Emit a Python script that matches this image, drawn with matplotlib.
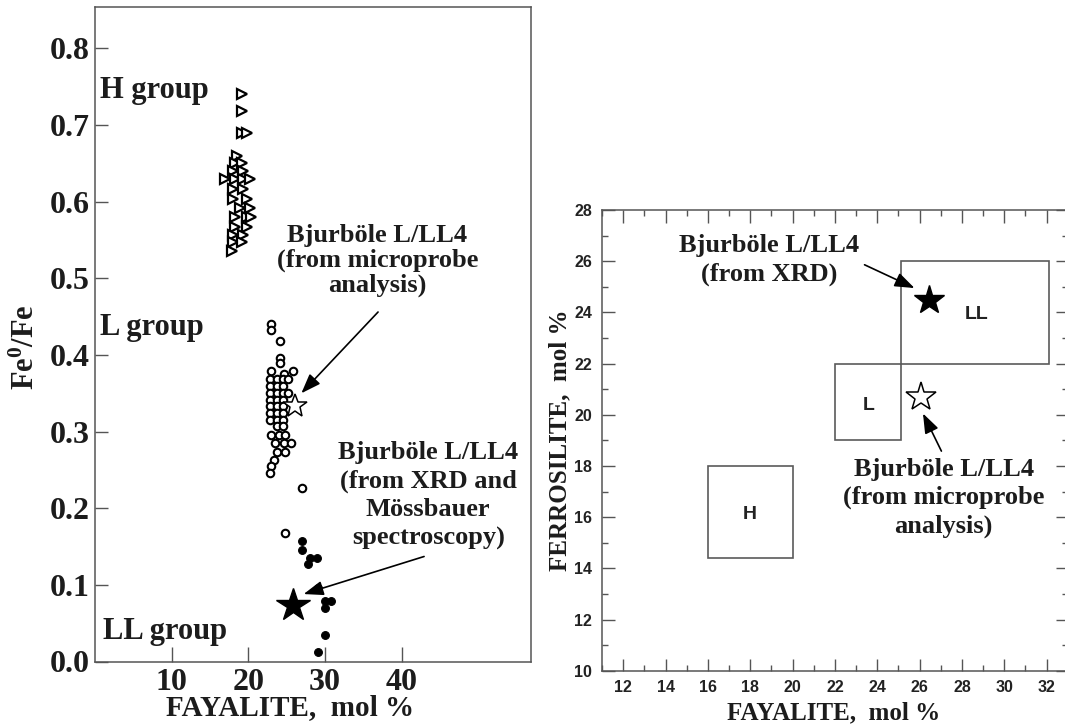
import matplotlib
matplotlib.use("Agg")
import matplotlib.pyplot as plt
from matplotlib.patches import Rectangle
from matplotlib.ticker import MultipleLocator, FixedLocator

# ---------------- data ----------------
# Left panel: Fe0/Fe vs fayalite
h_fa = [19.1, 19.1, 19.1, 19.8, 18.5, 18.25, 19.1, 18.0, 19.35, 16.95, 18.25, 19.35, 20.2,
        18.0, 19.35, 18.0, 19.8, 18.9, 20.2, 18.25, 19.8, 20.4, 18.25, 19.8, 18.0, 19.35,
        18.0, 19.1, 17.8]
h_fe = [0.740, 0.718, 0.690, 0.690, 0.659, 0.651, 0.651, 0.640, 0.640, 0.629, 0.629, 0.629, 0.629,
        0.616, 0.616, 0.603, 0.603, 0.592, 0.592, 0.580, 0.580, 0.580, 0.567, 0.567, 0.557, 0.557,
        0.547, 0.547, 0.535]

l_fa = [23.0, 23.0, 24.1, 24.1, 24.1, 23.0, 25.8, 24.6,
        22.8, 23.7, 24.55, 25.2,
        22.8, 23.7, 24.55,
        22.8, 23.7, 24.55, 25.2,
        22.8, 23.7, 24.55,
        22.8, 23.7, 24.55,
        22.8, 23.7, 24.55,
        22.8, 23.7, 24.55,
        23.7, 24.55,
        22.9, 24.0, 24.8,
        23.5, 24.6, 25.5,
        23.7, 24.8,
        23.3, 23.0, 22.85,
        26.95, 24.8]
l_fe = [0.440, 0.432, 0.418, 0.396, 0.389, 0.379, 0.379, 0.375,
        0.368, 0.368, 0.368, 0.368,
        0.359, 0.359, 0.359,
        0.350, 0.350, 0.350, 0.350,
        0.341, 0.341, 0.341,
        0.333, 0.333, 0.333,
        0.324, 0.324, 0.324,
        0.315, 0.315, 0.315,
        0.307, 0.307,
        0.296, 0.296, 0.296,
        0.285, 0.285, 0.285,
        0.274, 0.274,
        0.263, 0.255, 0.246,
        0.227, 0.168]

ll_fa = [26.95, 26.95, 28.0, 28.9, 27.8, 29.1, 30.0, 30.8, 30.0, 30.0, 29.1]
ll_fe = [0.157, 0.146, 0.135, 0.135, 0.127, 0.096, 0.079, 0.079, 0.070, 0.035, 0.012]

bj_micro_left = (26.08, 0.333)
bj_xrd_left = (25.85, 0.074)

group_labels = ["H group", "L group", "LL group"]
group_label_y = [0.745, 0.436, 0.039]

left_xticks = [10, 20, 30, 40]
left_yticks = [0.0, 0.1, 0.2, 0.3, 0.4, 0.5, 0.6, 0.7, 0.8]

# Right panel: ferrosilite vs fayalite fields
fields = ["H", "L", "LL"]
field_fa_min = [16.0, 22.0, 25.1]
field_fa_max = [20.0, 25.1, 32.1]
field_fs_min = [14.4, 19.0, 22.0]
field_fs_max = [18.0, 22.0, 26.0]
field_label_pos = [(18.0, 16.1), (23.6, 20.35), (28.7, 23.9)]

bj_xrd_right = (26.43, 24.49)
bj_micro_right = (26.05, 20.70)

# ---------------- style ----------------
plt.rcParams['mathtext.fontset'] = 'custom'
plt.rcParams['mathtext.rm'] = 'Liberation Serif:bold'
plt.rcParams['mathtext.bf'] = 'Liberation Serif:bold'
plt.rcParams['mathtext.it'] = 'Liberation Serif:bold'

SERIF = 'Liberation Serif'
SANS = 'Liberation Sans'
TXT = '#1c1c1c'
SP = '#555555'
ARROW = dict(arrowstyle='-|>,head_length=0.6,head_width=0.22', color='black',
             lw=1.2, mutation_scale=20, shrinkA=0, shrinkB=0)

W, H = 1065, 727
fig = plt.figure(figsize=(W / 100, H / 100), dpi=100)
fig.patch.set_facecolor('white')

def box(l, r, t, b):
    return [l / W, 1 - b / H, (r - l) / W, (b - t) / H]

# ---------------- left panel ----------------
ax1 = fig.add_axes(box(95, 530.7, 7, 661.5))
ax1.set_xlim(0, 56.8)
ax1.set_ylim(0, 0.854)
for s in ax1.spines.values():
    s.set_color(SP)
    s.set_linewidth(1.1)

ax1.plot(h_fa, h_fe, linestyle='none', marker='>', ms=7.5, mfc='white', mec='black', mew=1.6)
ax1.plot(l_fa, l_fe, linestyle='none', marker='o', ms=5.4, mfc='white', mec='black', mew=1.5)
ax1.plot(ll_fa, ll_fe, linestyle='none', marker='o', ms=5.6, mfc='black', mec='black', mew=0.8)
ax1.plot([bj_micro_left[0]], [bj_micro_left[1]], linestyle='none', marker='*', ms=18,
         mfc='white', mec='black', mew=1.1)
ax1.plot([bj_xrd_left[0]], [bj_xrd_left[1]], linestyle='none', marker='*', ms=25,
         mfc='black', mec='black')

ax1.xaxis.set_major_locator(FixedLocator(left_xticks))
ax1.yaxis.set_major_locator(FixedLocator(left_yticks))
ax1.set_xticklabels([str(v) for v in left_xticks])
ax1.set_yticklabels([f"{v:.1f}" for v in left_yticks])
ax1.tick_params(axis='x', direction='in', length=10.5, width=1, color=SP, pad=5,
                labelsize=23, labelcolor=TXT)
ax1.tick_params(axis='y', direction='in', length=9.5, width=1, color=SP, pad=4,
                labelsize=23, labelcolor=TXT)
for lab in ax1.get_xticklabels() + ax1.get_yticklabels():
    lab.set_fontfamily(SERIF)
    lab.set_fontweight('bold')

for name, yy in zip(group_labels, group_label_y):
    ax1.text(0.7 if name != "LL group" else 1.1, yy, name, ha='left', va='center',
             fontsize=22, fontweight='bold', family=SERIF, color=TXT)

ax1.text(36.8, 0.523, "Bjurböle L/LL4\n(from microprobe\nanalysis)", ha='center', va='center',
         fontsize=19, fontweight='bold', family=SERIF, color=TXT, linespacing=1.1)
ax1.annotate("", xy=(26.9, 0.350), xytext=(36.9, 0.456), textcoords='data', arrowprops=ARROW)

ax1.text(43.45, 0.2166, "Bjurböle L/LL4\n(from XRD and\nMössbauer\nspectroscopy)",
         ha='center', va='center', fontsize=19, fontweight='bold', family=SERIF,
         color=TXT, linespacing=1.3)
ax1.annotate("", xy=(27.2, 0.088), xytext=(42.9, 0.137), textcoords='data', arrowprops=ARROW)

fig.text(289.6 / W, 1 - 708 / H, "FAYALITE,  mol %", ha='center', va='center',
         fontsize=21, fontweight='bold', family=SERIF, color=TXT)
fig.text(26 / W, 1 - 347 / H, r"Fe$^{\mathbf{0}}$/Fe", ha='center', va='center', rotation=90,
         fontsize=22, fontweight='bold', family=SERIF, color=TXT)

# ---------------- right panel ----------------
ax2 = fig.add_axes(box(602, 1067.8, 210, 670.7))
ax2.set_xlim(11, 33)
ax2.set_ylim(10, 28)
for s in ax2.spines.values():
    s.set_color(SP)
    s.set_linewidth(1.1)

for name, x0, x1, y0, y1 in zip(fields, field_fa_min, field_fa_max, field_fs_min, field_fs_max):
    ax2.add_patch(Rectangle((x0, y0), x1 - x0, y1 - y0, fill=False, ec='#5a5a5a', lw=1.2))
for name, (lx, ly) in zip(fields, field_label_pos):
    ax2.text(lx, ly, name, ha='center', va='center', fontsize=14, fontweight='bold',
             family=SANS, color='#222222')

ax2.plot([bj_xrd_right[0]], [bj_xrd_right[1]], linestyle='none', marker='*', ms=22,
         mfc='black', mec='black')
ax2.plot([bj_micro_right[0]], [bj_micro_right[1]], linestyle='none', marker='*', ms=22,
         mfc='white', mec='black', mew=1.1)

ax2.text(18.9, 26.05, "Bjurböle L/LL4\n(from XRD)", ha='center', va='center', fontsize=19,
         fontweight='bold', family=SERIF, color=TXT, linespacing=1.3)
ax2.annotate("", xy=(25.76, 24.95), xytext=(23.4, 25.86), textcoords='data', arrowprops=ARROW)
ax2.text(27.14, 16.75, "Bjurböle L/LL4\n(from microprobe\nanalysis)", ha='center', va='center',
         fontsize=19, fontweight='bold', family=SERIF, color=TXT, linespacing=1.3)
ax2.annotate("", xy=(26.16, 20.05), xytext=(27.03, 18.58), textcoords='data', arrowprops=ARROW)

ax2.xaxis.set_minor_locator(MultipleLocator(1))
ax2.yaxis.set_minor_locator(MultipleLocator(1))
ax2.set_xticks(range(12, 33, 2))
ax2.set_yticks(range(10, 29, 2))
ax2.tick_params(which='both', direction='in', top=True, right=True, color=SP, width=1)
ax2.tick_params(which='major', length=9, pad=7, labelsize=11.5, labelcolor='#222222')
ax2.tick_params(which='minor', length=4.5)
for lab in ax2.get_xticklabels() + ax2.get_yticklabels():
    lab.set_fontfamily(SANS)
    lab.set_fontweight('bold')

fig.text(833.8 / W, 1 - 713 / H, "FAYALITE,  mol %", ha='center', va='center',
         fontsize=18, fontweight='bold', family=SERIF, color=TXT)
fig.text(560 / W, 1 - 440.5 / H, "FERROSILITE,  mol %", ha='center', va='center', rotation=90,
         fontsize=18, fontweight='bold', family=SERIF, color=TXT)

fig.savefig("out.png", dpi=100, facecolor='white')
